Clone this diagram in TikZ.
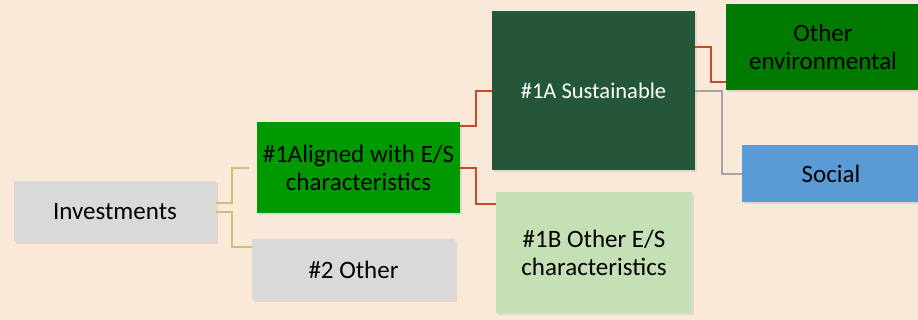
\documentclass[tikz,border=0pt]{standalone}
\usepackage{fontspec}
\setmainfont{Carlito}
\usetikzlibrary{shadows}
\definecolor{bg}{RGB}{250,233,217}
\definecolor{lgray}{RGB}{217,217,217}
\definecolor{brgreen}{RGB}{0,153,0}
\definecolor{dkgreen}{RGB}{36,86,58}
\definecolor{envgreen}{RGB}{0,122,0}
\definecolor{socblue}{RGB}{91,155,213}
\definecolor{ltgreen}{RGB}{197,224,180}
\definecolor{khaki}{RGB}{205,190,120}
\definecolor{rust}{RGB}{200,75,40}
\definecolor{cgray}{RGB}{165,165,165}
\tikzset{
  box/.style={rectangle, inner sep=0pt, align=center, font=\fontsize{25}{28}\selectfont,
    drop shadow={shadow xshift=2pt, shadow yshift=-2pt, opacity=0.08, fill=black}},
  lk/.style={line width=1.3pt, khaki},
  lr/.style={line width=1.3pt, rust},
  lg/.style={line width=1.1pt, cgray},
}
\begin{document}
\begin{tikzpicture}[x=1pt,y=-1pt]
\fill[bg] (0,0) rectangle (918,320);
\useasboundingbox (0,0) rectangle (918,320);
% boxes
\node[box, fill=lgray, minimum width=202pt, minimum height=61pt] (inv) at (115,212) {Investments};
\node[box, fill=lgray, minimum width=203pt, minimum height=61pt] (oth) at (353.5,269.5) {\#2 Other};
\node[box, fill=brgreen, minimum width=203pt, minimum height=91pt] (al) at (358.5,167.5) {\#1Aligned with E/S\\characteristics};
\node[box, fill=dkgreen, text=white, minimum width=203pt, minimum height=159pt, font=\fontsize{22.5}{26}\selectfont] (sus) at (593.5,90.5) {\#1A Sustainable};
\node[box, fill=ltgreen, minimum width=196pt, minimum height=121pt] (ob) at (594,252.5) {\#1B Other E/S\\characteristics};
\node[box, fill=envgreen, minimum width=194pt, minimum height=86pt] (env) at (823,47) {Other\\environmental};
\node[box, fill=socblue, minimum width=178pt, minimum height=57pt] (soc) at (831,173.5) {Social};
% connectors
\coordinate (k1) at (249,168);
\draw[lk] (inv.east |- 0,203) -- (232,203) -- (232,168) -- (k1);
\draw[lk] (inv.east |- 0,212) -- (232,212) -- (232,247) -- (oth.west |- 0,247);
\draw[lr] (al.east |- 0,126) -- (476,126) -- (476,91) -- (sus.west |- 0,91);
\draw[lr] (al.east |- 0,168) -- (476,168) -- (476,204) -- (ob.west |- 0,204);
\draw[lr] (sus.east |- 0,47) -- (711,47) -- (711,82) -- (env.west |- 0,82);
\draw[lg] (sus.east |- 0,91) -- (722,91) -- (722,174) -- (soc.west |- 0,174);
\end{tikzpicture}
\end{document}
